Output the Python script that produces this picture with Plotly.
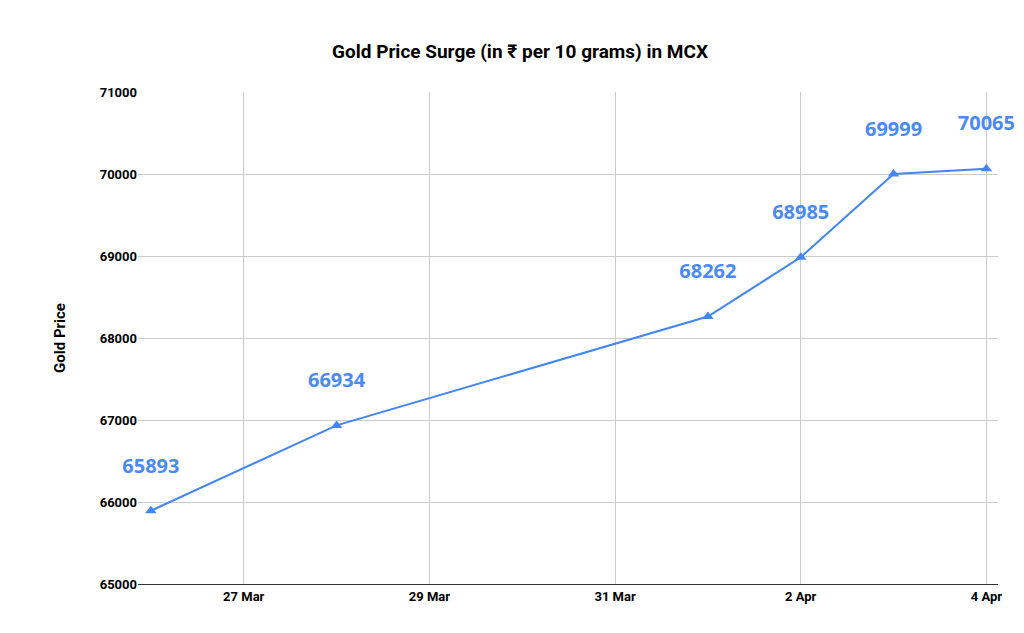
import plotly.graph_objects as go

dates = ["2024-03-26", "2024-03-28", "2024-04-01", "2024-04-02", "2024-04-03", "2024-04-04"]
prices = [65893, 66934, 68262, 68985, 69999, 70065]
yticks = [65000, 66000, 67000, 68000, 69000, 70000, 71000]

fig = go.Figure(go.Scatter(
    x=dates, y=prices, mode="lines+markers+text",
    line=dict(color="#4285F4", width=2),
    marker=dict(symbol="triangle-up", size=10, color="#4285F4"),
    text=[str(p) for p in prices], textposition="top center",
    texttemplate="%{text}<br><span style='font-size:8px'> </span>",
    textfont=dict(family="Open Sans", size=20, color="#4a8af4", weight="bold"),
    cliponaxis=False,
))
fig.update_layout(
    width=1024, height=633, plot_bgcolor="white", paper_bgcolor="white",
    margin=dict(l=130, r=34, t=84, b=57, autoexpand=False), showlegend=False,
    title=dict(text="<b>Gold Price Surge (in ₹ per 10 grams) in MCX</b>", x=0.5, y=0.932,
               yref="container", yanchor="middle",
               xanchor="center", font=dict(family="Roboto", size=19, color="black")),
)
fig.update_xaxes(range=["2024-03-25 20:40", "2024-04-04 03:00"], tick0="2024-03-27",
                 dtick=2*86400000, tickformat="%-d %b", showgrid=True, gridcolor="#cccccc",
                 tickfont=dict(family="Roboto", size=13, color="black", weight="bold"),
                 showline=True, linecolor="#333333", ticks="", automargin=False)
fig.update_yaxes(range=[65000, 71000], tickvals=yticks, ticktext=[str(v) for v in yticks],
                 showgrid=True, gridcolor="#cccccc", automargin=False,
                 tickfont=dict(family="Roboto", size=13, color="black", weight="bold"),
                 title=dict(text="<b>Gold Price</b>", font=dict(family="Roboto", size=15, color="black"), standoff=30),
                 zeroline=False, ticksuffix="  ")
fig.write_html("out.html")
